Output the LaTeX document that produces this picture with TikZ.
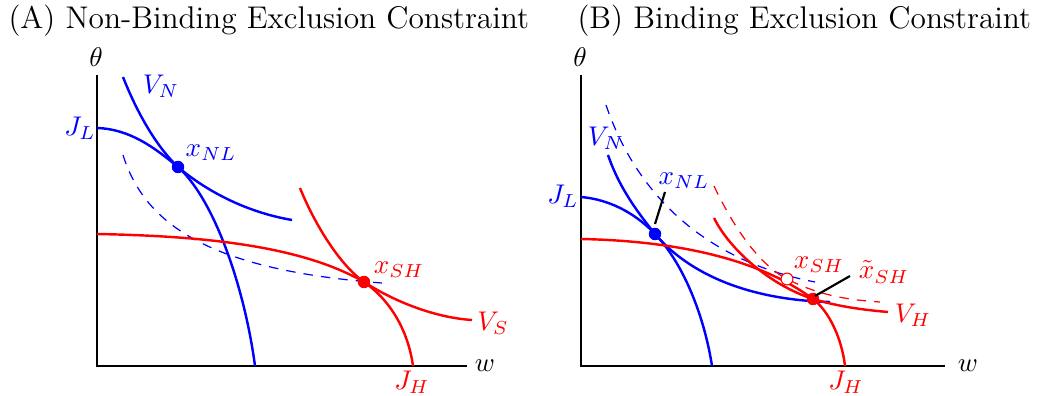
\documentclass[tikz,border=0pt]{standalone}
\begin{document}
\begin{tikzpicture}[x=0.37pt,y=-0.37pt,
  curve/.style={line width=0.9pt},
  dcurve/.style={line width=0.45pt, dash pattern=on 3.5pt off 3pt},
  axisline/.style={line width=0.9pt, black},
  dot/.style={circle, inner sep=0pt, minimum size=4.6pt},
  odot/.style={circle, inner sep=0pt, minimum size=4.4pt, draw=red, fill=white, line width=0.4pt},
  lbl/.style={inner sep=0pt, font=\fontsize{10.3}{12}\selectfont},
  title/.style={inner sep=0pt, font=\fontsize{11.6}{13}\selectfont},
  leader/.style={line width=0.8pt, black}]
\useasboundingbox (0,0) rectangle (1041,396);

% titles
\node[title, anchor=west] (tA) at (8,21) {(A) Non-Binding Exclusion Constraint};
\node[title, anchor=west] (tB) at (577,21) {(B) Binding Exclusion Constraint};

% ---------- Panel A ----------
\coordinate (oA) at (97,366);
\coordinate (yA) at (97,75);
\coordinate (xA) at (467,366);
\draw[axisline] (yA) -- (oA) -- (xA);
\node[lbl] (thA) at (96,57) {$\theta$};
\node[lbl] (wA) at (485,366) {$w$};

\coordinate (pNLA) at (178,167);
\coordinate (pSHA) at (364,282);

% J_L
\draw[curve, blue] (97,128) .. controls (130,129) and (155,148) .. (pNLA)
   .. controls (215,200) and (245,290) .. (255,366);
% V_N
\draw[curve, blue] (123,77) .. controls (140,120) and (160,150) .. (pNLA)
   .. controls (205,190) and (245,212) .. (292,220);
% dashed blue
\draw[dcurve, blue] (123,155) .. controls (145,225) and (210,270) .. (382,283);
% J_H
\draw[curve, red] (97,234) .. controls (200,236) and (300,245) .. (pSHA)
   .. controls (390,300) and (408,330) .. (413,366);
% V_S
\draw[curve, red] (300,188) .. controls (315,225) and (340,265) .. (pSHA)
   .. controls (400,305) and (440,318) .. (472,320);

\node[dot, fill=blue] (xNLA) at (pNLA) {};
\node[dot, fill=red] (xSHA) at (pSHA) {};

\node[lbl, blue] (JLA) at (80,128) {$J_L$};
\node[lbl, blue] (VNA) at (161,86) {$V_N$};
\node[lbl, blue] (lNLA) at (211,153) {$x_{NL}$};
\node[lbl, red] (lSHA) at (399,270) {$x_{SH}$};
\node[lbl, red] (VSA) at (493,323) {$V_S$};
\node[lbl, red] (JHA) at (412,382) {$J_H$};

% ---------- Panel B ----------
\coordinate (oB) at (581,366);
\coordinate (yB) at (581,75);
\coordinate (xB) at (945,366);
\draw[axisline] (yB) -- (oB) -- (xB);
\node[lbl] (thB) at (580,57) {$\theta$};
\node[lbl] (wB) at (968,366) {$w$};

\coordinate (pNLB) at (655,234);
\coordinate (pSHB) at (813,299);
\coordinate (pOB) at (787,279);

% J_L
\draw[curve, blue] (581,197) .. controls (615,200) and (640,218) .. (pNLB)
   .. controls (685,265) and (705,320) .. (712,366);
% V_N
\draw[curve, blue] (608,155) .. controls (620,190) and (640,215) .. (pNLB)
   .. controls (690,275) and (750,300) .. (830,302);
% dashed blue
\draw[dcurve, blue] (606,105) .. controls (635,190) and (700,260) .. (815,282);
% J_H
\draw[curve, red] (581,239) .. controls (680,241) and (760,260) .. (pSHB)
   .. controls (830,312) and (842,340) .. (845,366);
% V_H
\draw[curve, red] (714,218) .. controls (730,250) and (770,285) .. (pSHB)
   .. controls (840,307) and (865,310) .. (888,312);
% dashed red
\draw[dcurve, red] (714,186) .. controls (735,230) and (760,265) .. (pOB)
   .. controls (820,296) and (850,300) .. (880,302);

\node[dot, fill=blue] (xNLB) at (pNLB) {};
\node[dot, fill=red] (xSHB) at (pSHB) {};
\node[odot] (xOB) at (pOB) {};

% leaders
\coordinate (aNL1) at (655,224);
\coordinate (aNL2) at (665,192);
\draw[leader] (aNL1) -- (aNL2);
\coordinate (aSH1) at (815,296);
\coordinate (aSH2) at (850,276);
\draw[leader] (aSH1) -- (aSH2);

\node[lbl, blue] (JLB) at (563,196) {$J_L$};
\node[lbl, blue] (VNB) at (606,138) {$V_N$};
\node[lbl, blue] (lNLB) at (684,181) {$x_{NL}$};
\node[lbl, red] (lSHB) at (819,265) {$x_{SH}$};
\node[lbl, red] (ltSHB) at (884,272) {$\tilde{x}_{SH}$};
\node[lbl, red] (VHB) at (913,315) {$V_H$};
\node[lbl, red] (JHB) at (846,382) {$J_H$};
\end{tikzpicture}
\end{document}
